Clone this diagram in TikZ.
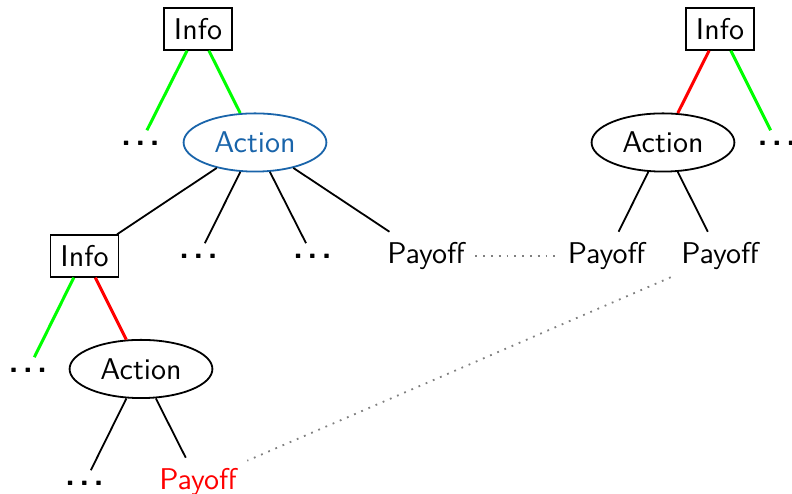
\documentclass[tikz,border=0pt]{standalone}
\usetikzlibrary{shapes.geometric}
\definecolor{actblue}{RGB}{25,100,170}
\definecolor{choicegreen}{RGB}{0,255,0}
% three spaced baseline dots for elided subtrees
\newcommand{\elided}{{\fontsize{11}{11}\bfseries.\kern1.4pt.\kern1.4pt.}}
\begin{document}
\begin{tikzpicture}[x=0.3333pt,y=-0.3333pt,
  every node/.style={font=\sffamily},
  infobox/.style={draw,rectangle,semithick},
  actnode/.style={draw,ellipse,semithick},
  branch/.style={semithick},
  takeedge/.style={line width=1pt,choicegreen},
  skipedge/.style={line width=1pt,red},
  link/.style={gray,dotted,semithick}]
\useasboundingbox (0,0) rectangle (792,494);

% left game tree
\node[infobox] (infoA) at (198,29) {Info};
\node (dotsA) at (140.5,143) {\elided};
\node[actnode,draw=actblue,text=actblue] (actA) at (255,142.5) {Action};

\node[infobox] (infoB) at (84.5,256) {Info};
\node (dotsA2) at (198.5,256) {\elided};
\node (dotsA3) at (312.5,256) {\elided};
\node (payA) at (426,256) {Payoff};

\node (dotsB) at (28,370) {\elided};
\node[actnode] (actB) at (141,369) {Action};

\node (dotsB2) at (84.5,483) {\elided};
\node[text=red] (payRed) at (198,482) {Payoff};

% right game tree
\node[infobox] (infoC) at (720,29) {Info};
\node[actnode] (actC) at (663,142.5) {Action};
\node (dotsC) at (777,143) {\elided};
\node (payB) at (606.5,256) {Payoff};
\node (payC) at (720,256) {Payoff};

% branches
\draw[takeedge] (infoA) -- (dotsA);
\draw[takeedge] (infoA) -- (actA);
\draw[branch] (actA) -- (infoB);
\draw[branch] (actA) -- (dotsA2);
\draw[branch] (actA) -- (dotsA3);
\draw[branch] (actA) -- (payA);
\draw[takeedge] (infoB) -- (dotsB);
\draw[skipedge] (infoB) -- (actB);
\draw[branch] (actB) -- (dotsB2);
\draw[branch] (actB) -- (payRed);

\draw[skipedge] (infoC) -- (actC);
\draw[takeedge] (infoC) -- (dotsC);
\draw[branch] (actC) -- (payB);
\draw[branch] (actC) -- (payC);

% payoff links
\draw[link] (payA) -- (payB);
\draw[link] (payC) -- (payRed);
\end{tikzpicture}
\end{document}
